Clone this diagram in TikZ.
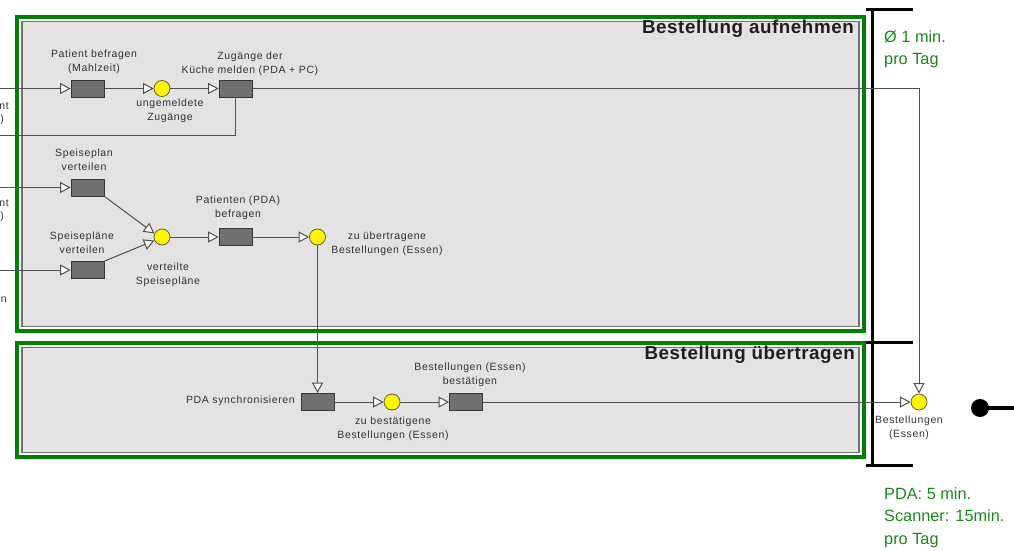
\documentclass[tikz,border=0pt]{standalone}
\usepackage{fontspec}
\setmainfont{Liberation Sans}
\newfontfamily\lblfont[LetterSpace=6]{Liberation Sans}
\newfontfamily\headfont[LetterSpace=3]{Liberation Sans}
\usetikzlibrary{arrows.meta}

\definecolor{frame}{RGB}{0,128,0}
\definecolor{panel}{RGB}{227,227,227}
\definecolor{paneledge}{RGB}{115,115,115}
\definecolor{wire}{RGB}{80,80,80}
\definecolor{task}{RGB}{112,112,112}
\definecolor{taskedge}{RGB}{55,55,55}
\definecolor{evt}{RGB}{255,245,0}
\definecolor{evtedge}{RGB}{100,100,40}
\definecolor{txt}{RGB}{50,50,50}
\definecolor{note}{RGB}{20,140,20}

\tikzset{
  taskbox/.style={draw=taskedge, line width=0.8pt, fill=task,
    minimum width=33pt, minimum height=17pt, inner sep=0pt},
  evtdot/.style={circle, draw=evtedge, line width=0.8pt, fill=evt,
    minimum size=16pt, inner sep=0pt},
  lbl/.style={font=\lblfont\fontsize{10.5}{14}\selectfont, text=txt,
    align=center, inner sep=0pt},
  heading/.style={font=\headfont\bfseries\fontsize{18.8}{20}\selectfont,
    text=black!88, inner sep=0pt, anchor=east},
  notetext/.style={font=\fontsize{16.3}{22.5}\selectfont, text=note,
    align=left, inner sep=0pt, anchor=north west},
  flow/.style={draw=wire, line width=1pt},
  flowto/.style={flow, -{Triangle[length=10.5pt,width=11pt,fill=white]}},
  outerframe/.style={draw=frame, line width=3.5pt},
  innerframe/.style={draw=paneledge, line width=1.5pt, fill=panel},
  bracket/.style={draw=black, line width=3pt},
}

\begin{document}
\begin{tikzpicture}[x=1pt, y=-1pt]
\useasboundingbox (0,0) rectangle (1014,551);

% swimlane panels
\draw[outerframe] (17,17) rectangle (864,331);
\draw[innerframe] (22,21.5) rectangle (859,326.5);
\draw[outerframe] (17,343) rectangle (864,457);
\draw[innerframe] (22,347.5) rectangle (859,452.5);

\node[heading] (h1) at (854,29) {Bestellung aufnehmen};
\node[heading] (h2) at (855,355) {Bestellung übertragen};

% time bracket
\draw[bracket] (866,10) -- (913,10);
\draw[bracket] (872,10) -- (872,465);
\draw[bracket] (866,342) -- (913,342);
\draw[bracket] (866,465) -- (913,465);

\node[notetext] (n1) at (884,30) {Ø 1 min.\\pro Tag};
\node[notetext] (n2) at (884,487) {PDA: 5 min.\\Scanner: 15min.\\pro Tag};

% incoming connectors from the left edge
\coordinate (in1) at (0,88.5);
\coordinate (in1b) at (0,135);
\coordinate (in2) at (0,187.5);
\coordinate (in3) at (0,270);

\node[lbl, anchor=east] (f1) at (9,106) {nt};
\node[lbl, anchor=east] (f2) at (4,120) {)};
\node[lbl, anchor=east] (f3) at (9,203) {nt};
\node[lbl, anchor=east] (f4) at (4,217) {)};
\node[lbl, anchor=east] (f5) at (7,300) {n};

% tasks and events
\node[taskbox] (r1) at (87.5,88.5) {};
\node[evtdot]  (c1) at (162,88.5) {};
\node[taskbox] (r2) at (235.5,88.5) {};
\node[taskbox] (r3) at (87.5,187.5) {};
\node[taskbox] (r4) at (87.5,270) {};
\node[evtdot]  (c2) at (162,237) {};
\node[taskbox] (r5) at (235.5,237) {};
\node[evtdot]  (c3) at (317.5,237) {};
\node[taskbox] (r6) at (317.5,402) {};
\node[evtdot]  (c4) at (392,402) {};
\node[taskbox] (r7) at (466,402) {};
\node[evtdot]  (fin) at (919,402) {};

% labels
\node[lbl] (t1) at (94,62) {Patient befragen\\(Mahlzeit)};
\node[lbl] (t2) at (250,63.5) {Zugänge der\\Küche melden (PDA + PC)};
\node[lbl] (t3) at (170,111) {ungemeldete\\Zugänge};
\node[lbl] (t4) at (84,160) {Speiseplan\\verteilen};
\node[lbl] (t5) at (82,242.5) {Speisepläne\\verteilen};
\node[lbl] (t6) at (168,275) {verteilte\\Speisepläne};
\node[lbl] (t7) at (238,208) {Patienten (PDA)\\befragen};
\node[lbl] (t8) at (387,243.5) {zu übertragene\\Bestellungen (Essen)};
\node[lbl, anchor=east] (t9) at (295,401) {PDA synchronisieren};
\node[lbl] (t10) at (393,428.5) {zu bestätigene\\Bestellungen (Essen)};
\node[lbl] (t11) at (470,374.5) {Bestellungen (Essen)\\bestätigen};
\node[lbl] (t12) at (909,427.5) {Bestellungen\\(Essen)};

% connectors
\draw[flowto] (in1) -- (r1);
\draw[flowto] (r1) -- (c1);
\draw[flowto] (c1) -- (r2);
\draw[flow] (in1b) -| (r2.south);
\draw[flowto] (r2.east) -| (fin.north);
\draw[flowto] (in2) -- (r3);
\draw[flowto] (in3) -- (r4);
\draw[flowto] (r3.south east) -- (c2.155);
\draw[flowto] (r4.north east) -- (c2.205);
\draw[flowto] (c2) -- (r5);
\draw[flowto] (r5) -- (c3);
\draw[flowto] (c3) -- (r6);
\draw[flowto] (r6) -- (c4);
\draw[flowto] (c4) -- (r7);
\draw[flowto] (r7) -- (fin);

% terminal
\node[circle, fill=black, minimum size=18pt, inner sep=0pt] (term) at (980,408) {};
\coordinate (termend) at (1014,408);
\draw[line width=4pt] (term.center) -- (termend);
\end{tikzpicture}
\end{document}
